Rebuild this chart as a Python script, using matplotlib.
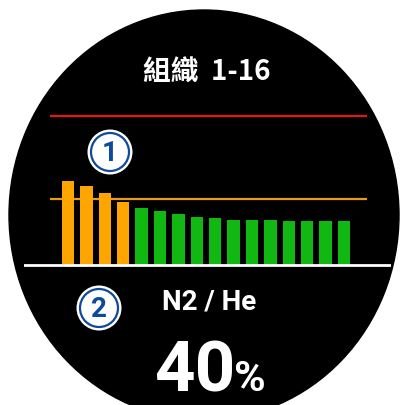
import matplotlib.pyplot as plt
from matplotlib.patches import Circle, Ellipse

# tissue compartments 1-16, loading in % of the limit (red line = 100)
compartments = list(range(1, 17))
loading = [56, 53, 48, 42, 38, 36, 34, 32, 31, 30, 30, 30, 29, 29, 29, 29]
bar_colors = ['#FFA500'] * 4 + ['#12B812'] * 12
limit_red = 100
limit_orange = 44

title = "組織  1-16"
gas_label = "N2 / He"
gas_value = "40"

fig = plt.figure(figsize=(4.01, 4.06), dpi=100)
fig.patch.set_facecolor('white')

# background layer in pixel coords (watch face)
bg = fig.add_axes([0, 0, 1, 1])
bg.set_xlim(0, 401)
bg.set_ylim(406, 0)
bg.axis('off')
bg.add_patch(Ellipse((204, 216), 390, 410, color='black'))

cjk = ['Noto Sans CJK TC', 'DejaVu Sans']
bg.text(207, 80.5, title, ha='center', va='baseline', color='white',
        fontsize=20, fontweight='bold', family=cjk)
bg.text(209, 310, gas_label, ha='center', va='baseline', color='white',
        fontsize=20, fontweight='bold', family='Roboto')
bg.text(154, 391.5, gas_value, ha='left', va='baseline', color='white',
        fontsize=51, fontweight='bold', family='Roboto')
bg.text(234, 391, "%", ha='left', va='baseline', color='white',
        fontsize=31, fontweight='bold', family='Roboto')

# circled callouts
blue = '#0d4a9c'
for (cx, cy), num in [((110, 153), "1"), ((99, 309), "2")]:
    bg.add_patch(Circle((cx, cy), 22.5, facecolor='white', edgecolor='none'))
    bg.add_patch(Circle((cx, cy), 19, facecolor='none', edgecolor=blue, lw=1.6))
    bg.text(cx, cy + 1, num, ha='center', va='center', color=blue,
            fontsize=20, fontweight='bold', family='Roboto')

# bar chart axes, mapped so that bar 1 sits at x=68px, pitch 18.4px,
# 0 at y=265.5px and 100 at y=117px
px_x = 18.4
px_y = 1.485
x0, x1 = 24, 391
y_top, y_bot = 102, 273
ax = fig.add_axes([x0 / 401, (406 - y_bot) / 406, (x1 - x0) / 401, (y_bot - y_top) / 406])
ax.patch.set_alpha(0)
ax.set_xlim((x0 - 68) / px_x + 1, (x1 - 68) / px_x + 1)
ax.set_ylim(-(y_bot - 265.5) / px_y, (265.5 - y_top) / px_y)
ax.axis('off')

ax.bar(compartments, loading, width=0.67, color=bar_colors, zorder=2)
line_x0 = (50 - 68) / px_x + 1
line_x1 = (367 - 68) / px_x + 1
ax.hlines(limit_red, line_x0, line_x1, color='#E01818', lw=1.6, zorder=3)
ax.hlines(limit_orange, line_x0, line_x1, color='#E89A1A', lw=1.6, zorder=1)
ax.axhline(0, color='white', lw=2, zorder=3)

fig.savefig('out.png', dpi=100, facecolor='white')
